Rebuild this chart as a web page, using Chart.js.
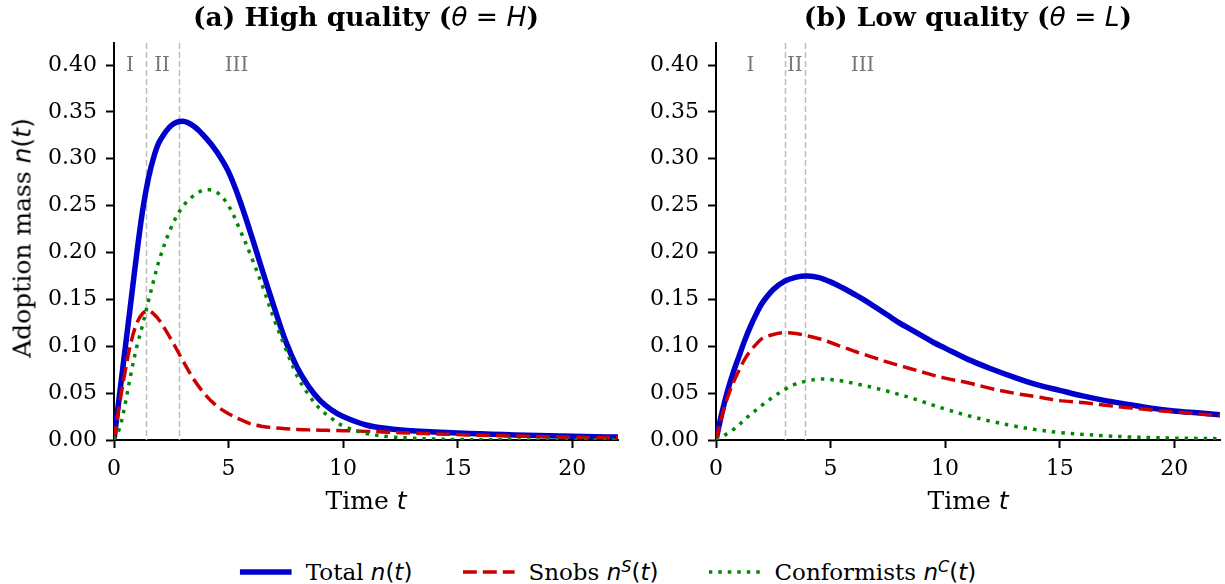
<!DOCTYPE html>
<html>
<head>
<meta charset="utf-8">
<script src="https://cdn.jsdelivr.net/npm/chart.js@4.4.1/dist/chart.umd.min.js"></script>
<style>
  body { margin: 0; background: #fff; width: 1225px; height: 584px; position: relative; overflow: hidden;
         font-family: 'DejaVu Serif', serif; color: #000; }
  canvas { position: absolute; top: 0; }
  .title { position: absolute; top: 1px; font-weight: bold; font-size: 26.5px; white-space: nowrap; transform: translateX(-50%); }
  .m { font-family: 'DejaVu Sans', sans-serif; font-style: italic; font-weight: normal; }
  .mr { font-family: 'DejaVu Sans', sans-serif; font-weight: normal; }
  .xtitle { position: absolute; top: 486px; font-size: 25px; white-space: nowrap; transform: translateX(-50%); }
  .ytitle { position: absolute; left: 22px; top: 238px; font-size: 25px; white-space: nowrap;
            transform: translate(-50%, -50%) rotate(-90deg); }
  #legend { position: absolute; top: 559px; left: 608px; transform: translateX(-50%); display: flex;
            align-items: center; font-size: 23px; white-space: nowrap; }
  .item { display: flex; align-items: center; margin-right: 50px; }
  .item:last-child { margin-right: 0; }
  .item svg { margin-right: 14px; }
  sup { font-size: 0.7em; vertical-align: 0.5em; line-height: 0; }
</style>
</head>
<body>

<canvas id="chartHigh" width="620" height="520" style="left:0px"></canvas>
<canvas id="chartLow" width="623" height="520" style="left:602px"></canvas>

<div class="title" style="left:366px">(a) High quality (<span class="m">θ</span><span class="mr"> = </span><span class="m">H</span>)</div>
<div class="title" style="left:968px">(b) Low quality (<span class="m">θ</span><span class="mr"> = </span><span class="m">L</span>)</div>

<div class="ytitle">Adoption mass <span class="m">n</span><span class="mr">(</span><span class="m">t</span><span class="mr">)</span></div>
<div class="xtitle" style="left:366px">Time <span class="m">t</span></div>
<div class="xtitle" style="left:968px">Time <span class="m">t</span></div>

<div id="legend">
  <div class="item">
    <svg width="52" height="12"><line x1="0" y1="6" x2="52" y2="6" stroke="#0000cc" stroke-width="5.5"/></svg>
    <span>Total <span class="m">n</span><span class="mr">(</span><span class="m">t</span><span class="mr">)</span></span>
  </div>
  <div class="item">
    <svg width="52" height="12"><line x1="0" y1="6" x2="52" y2="6" stroke="#cc0000" stroke-width="3.5" stroke-dasharray="14 6"/></svg>
    <span>Snobs <span class="m">n</span><sup class="m">S</sup><span class="mr">(</span><span class="m">t</span><span class="mr">)</span></span>
  </div>
  <div class="item">
    <svg width="52" height="12"><line x1="0" y1="6" x2="52" y2="6" stroke="#008800" stroke-width="3.5" stroke-dasharray="3.5 6"/></svg>
    <span>Conformists <span class="m">n</span><sup class="m">C</sup><span class="mr">(</span><span class="m">t</span><span class="mr">)</span></span>
  </div>
</div>

<script>
/* Data */
const timeT = [0, 0.25, 0.5, 0.75, 1, 1.25, 1.5, 1.75, 2, 2.5, 3, 3.5, 4, 4.5, 5, 5.5, 6, 6.5, 7, 7.5,
  8, 8.5, 9, 9.5, 10, 11, 12, 13, 14, 15, 16, 17, 18, 19, 20, 21, 22];

// (a) high quality
const totalHigh = [0, 0.050, 0.100, 0.150, 0.200, 0.245, 0.279, 0.303, 0.319, 0.3355, 0.340, 0.3345, 0.3225,
  0.307, 0.286, 0.255, 0.218, 0.179, 0.141, 0.105, 0.077, 0.057, 0.042, 0.032, 0.025, 0.016, 0.012,
  0.0098, 0.0085, 0.0075, 0.0066, 0.0058, 0.0051, 0.0045, 0.0040, 0.0035, 0.0031];
const snobsHigh = [0, 0.040, 0.075, 0.105, 0.125, 0.135, 0.138, 0.134, 0.127, 0.107, 0.085, 0.064, 0.048,
  0.036, 0.028, 0.022, 0.017, 0.0145, 0.013, 0.012, 0.0113, 0.0108, 0.0105, 0.0102, 0.0100, 0.0092, 0.0082,
  0.0073, 0.0065, 0.0058, 0.0051, 0.0045, 0.0040, 0.0035, 0.0031, 0.0027, 0.0024];
const confHigh = [0, 0.013, 0.040, 0.072, 0.100, 0.123, 0.148, 0.172, 0.194, 0.227, 0.249, 0.261, 0.267,
  0.264, 0.250, 0.224, 0.195, 0.163, 0.128, 0.097, 0.068, 0.048, 0.033, 0.023, 0.015, 0.007, 0.0035,
  0.0018, 0.001, 0.0005, 0.0003, 0.0002, 0.0001, 0.0001, 0, 0, 0];

// (b) low quality
const totalLow = [0, 0.028, 0.052, 0.072, 0.089, 0.106, 0.121, 0.134, 0.1455, 0.1605, 0.1695, 0.1738, 0.1750,
  0.1733, 0.1687, 0.1627, 0.156, 0.149, 0.141, 0.133, 0.125, 0.118, 0.111, 0.104, 0.098, 0.086, 0.076,
  0.067, 0.059, 0.053, 0.047, 0.042, 0.038, 0.034, 0.031, 0.029, 0.027];
const snobsLow = [0, 0.025, 0.045, 0.061, 0.074, 0.086, 0.095, 0.102, 0.108, 0.1125, 0.1145, 0.1135, 0.111,
  0.108, 0.104, 0.0995, 0.095, 0.091, 0.087, 0.083, 0.0795, 0.076, 0.0725, 0.069, 0.066, 0.061, 0.055,
  0.050, 0.046, 0.042, 0.040, 0.037, 0.0345, 0.032, 0.030, 0.028, 0.026];
const confLow = [0, 0.003, 0.007, 0.011, 0.016, 0.022, 0.027, 0.032, 0.037, 0.046, 0.054, 0.060, 0.063,
  0.065, 0.0645, 0.063, 0.0605, 0.058, 0.055, 0.052, 0.0485, 0.045, 0.041, 0.037, 0.033, 0.026, 0.020,
  0.015, 0.011, 0.008, 0.006, 0.0045, 0.0033, 0.0026, 0.002, 0.0017, 0.0014];

// phase boundaries and label spots
const phaseNames = ["I", "II", "III"];
const phaseHigh = [1.4, 2.85];
const phaseLabelsHigh = [0.7, 2.1, 5.35];
const phaseLow = [3.0, 3.88];
const phaseLabelsLow = [1.5, 3.44, 6.4];

const xTicks = [0, 5, 10, 15, 20];
const yTicks = [0, 0.05, 0.10, 0.15, 0.20, 0.25, 0.30, 0.35, 0.40];
const xMax = 22;
const yMax = 0.4235;

/* Phase lines + labels */
const phasePlugin = {
    id: "phases",
    beforeDatasetsDraw(chart, args, opts) {
        const ctx = chart.ctx;
        const area = chart.chartArea;
        const x = chart.scales.x;
        const y = chart.scales.y;
        ctx.save();
        ctx.strokeStyle = "#bdbdbd";
        ctx.lineWidth = 1.5;
        ctx.setLineDash([6, 3]);
        opts.bounds.forEach(function (b) {
            const px = Math.round(x.getPixelForValue(b)) + 0.5;
            ctx.beginPath();
            ctx.moveTo(px, area.top);
            ctx.lineTo(px, area.bottom);
            ctx.stroke();
        });
        ctx.setLineDash([]);
        ctx.fillStyle = "#777777";
        ctx.font = '20px "DejaVu Serif"';
        ctx.textAlign = "center";
        ctx.textBaseline = "middle";
        opts.labels.forEach(function (t, i) {
            ctx.fillText(phaseNames[i], x.getPixelForValue(t), y.getPixelForValue(0.40) + 1);
        });
        ctx.restore();
    }
};

function toPoints(vals) {
    return timeT.map(function (t, i) { return { x: t, y: vals[i] }; });
}

const tickFont = { family: "DejaVu Serif", size: 22 };
const axisGrid = { display: true, drawOnChartArea: false, drawTicks: true, tickLength: 8, tickWidth: 2, tickColor: "#000" };
const axisBorder = { display: true, color: "#000", width: 2 };

function makeChart(id, total, snobs, conf, bounds, labels, padRight) {
    return new Chart(id, {
        type: "line",
        data: {
            datasets: [
                { data: toPoints(total), borderColor: "#0000cc", borderWidth: 5.5, order: 3 },
                { data: toPoints(snobs), borderColor: "#cc0000", borderWidth: 3.5, borderDash: [14, 6], order: 2 },
                { data: toPoints(conf), borderColor: "#008800", borderWidth: 3.5, borderDash: [3.5, 6], order: 1 }
            ]
        },
        options: {
            responsive: false,
            animation: false,
            devicePixelRatio: 1,
            layout: { padding: { top: 43, right: padRight, left: 0, bottom: 0 } },
            elements: {
                point: { radius: 0 },
                line: { tension: 0.35, fill: false, borderCapStyle: "butt" }
            },
            plugins: {
                legend: { display: false },
                tooltip: { enabled: false },
                phases: { bounds: bounds, labels: labels }
            },
            scales: {
                x: {
                    type: "linear", min: 0, max: xMax,
                    afterBuildTicks: function (s) { s.ticks = xTicks.map(function (v) { return { value: v }; }); },
                    afterFit: function (s) { s.height = 80; },
                    ticks: { font: tickFont, color: "#000", padding: 8, maxRotation: 0, autoSkip: false },
                    grid: axisGrid,
                    border: axisBorder
                },
                y: {
                    type: "linear", min: 0, max: yMax,
                    afterBuildTicks: function (s) { s.ticks = yTicks.map(function (v) { return { value: v }; }); },
                    afterFit: function (s) { s.width = 114; },
                    ticks: {
                        font: tickFont, color: "#000", padding: 9, autoSkip: false,
                        callback: function (v) { return Number(v).toFixed(2); }
                    },
                    grid: axisGrid,
                    border: axisBorder
                }
            }
        },
        plugins: [phasePlugin]
    });
}

makeChart("chartHigh", totalHigh, snobsHigh, confHigh, phaseHigh, phaseLabelsHigh, 2);
makeChart("chartLow", totalLow, snobsLow, confLow, phaseLow, phaseLabelsLow, 5);
</script>
</body>
</html>
